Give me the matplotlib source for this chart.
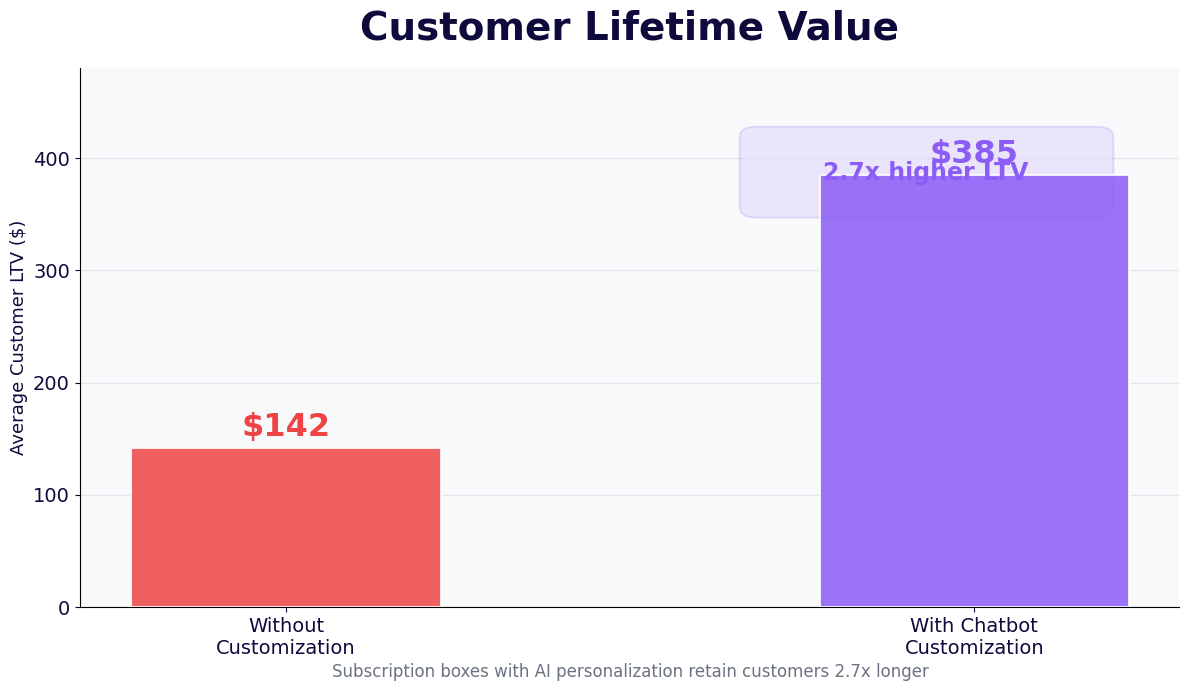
import matplotlib
matplotlib.use("Agg")
import matplotlib.pyplot as plt
from matplotlib.patches import FancyBboxPatch

# data
categories = ["Without\nCustomization", "With Chatbot\nCustomization"]
ltv_values = [142, 385]
value_labels = ["$142", "$385"]
bar_colors = ["#EF4444", "#8B5CF6"]
multiplier_text = "2.7x higher LTV"
subtitle = "Subscription boxes with AI personalization retain customers 2.7x longer"

navy = "#0F0A3C"

fig, ax = plt.subplots(figsize=(11.89, 6.9), dpi=100)
fig.patch.set_facecolor("white")
ax.set_facecolor("#F8F9FB")

x = range(len(categories))
bars = ax.bar(x, ltv_values, width=0.45, color=bar_colors, alpha=0.85,
              edgecolor="white", linewidth=1.5, zorder=3)

for b, lab, col in zip(bars, value_labels, bar_colors):
    ax.text(b.get_x() + b.get_width() / 2, b.get_height() + 4, lab,
            ha="center", va="bottom", fontsize=23, fontweight="bold",
            color=col, zorder=5)

# highlight box for the multiplier (sits behind the bar)
box = FancyBboxPatch((0.659, 347), 0.543, 81,
                     boxstyle="round,pad=0,rounding_size=0.025",
                     mutation_aspect=400,
                     facecolor="#DDD3FB", edgecolor="#C4B5FD",
                     alpha=0.5, linewidth=1.2, zorder=2)
ax.add_patch(box)
ax.text(0.929, 387, multiplier_text, ha="center", va="center",
        fontsize=17, fontweight="bold", color="#8B5CF6", zorder=5)

ax.set_xlim(-0.3, 1.298)
ax.set_ylim(0, 480)
ax.set_yticks([0, 100, 200, 300, 400])
ax.set_xticks(list(x))
ax.set_xticklabels(categories)
ax.tick_params(axis="both", labelsize=14, colors=navy)
ax.set_ylabel("Average Customer LTV ($)", fontsize=13, color=navy)
ax.yaxis.grid(True, color="#E3E5EA", linewidth=1, zorder=0)
ax.set_axisbelow(True)
for s in ["top", "right"]:
    ax.spines[s].set_visible(False)

ax.set_title("Customer Lifetime Value", fontsize=28, fontweight="bold",
             color=navy, pad=21)

fig.subplots_adjust(left=0.067, right=0.992, top=0.901, bottom=0.12)
fig.text(0.53, 0.026, subtitle, ha="center", va="center",
         fontsize=12, color="#6B7280")

fig.savefig("out.png", dpi=100)
